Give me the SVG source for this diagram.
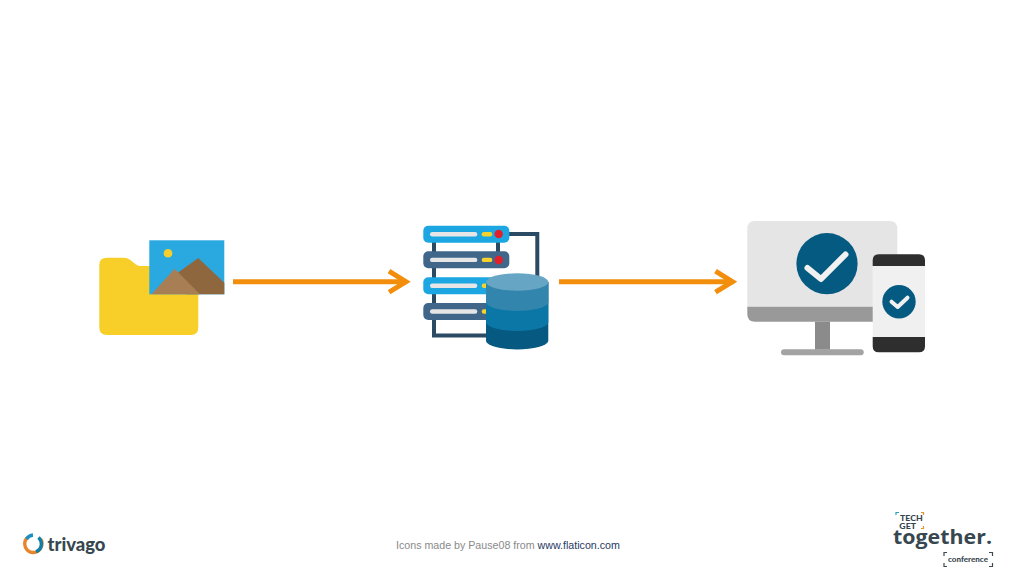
<svg xmlns="http://www.w3.org/2000/svg" width="1024" height="576" viewBox="0 0 1024 576">
<defs>
<marker id="head" markerUnits="userSpaceOnUse" markerWidth="24" markerHeight="30" refX="19" refY="15" orient="auto">
<path d="M1.5 4.5L18.5 15L1.5 25.5" fill="none" stroke="#f28e0c" stroke-width="5"/>
</marker>
</defs>
<style>
.conn{fill:none;stroke:#f28e0c;stroke-width:5;marker-end:url(#head)}
.barA{fill:#1ca7e2}.barB{fill:#40678a}.pill{fill:#e6e6e6}.led{fill:#f6d22c}.red{fill:#e2202c}
.frame{fill:none;stroke:#2b4a63;stroke-width:4}
.check{fill:none;stroke:#f1f1f1;stroke-linecap:round;stroke-linejoin:round}
.brk{fill:none;stroke:#3d4a50;stroke-width:1.2}
text{font-family:"Liberation Sans",Arial,sans-serif}
.logo{font-family:"Lato","Open Sans",sans-serif;font-weight:900;fill:#37474f}
.logo2{font-family:"Open Sans","Noto Sans",sans-serif;font-weight:700;fill:#37474f}
</style>
<rect width="1024" height="576" fill="#fff"/>
<g id="connectors">
<path class="conn" d="M233 281.700H406.500"/>
<path class="conn" d="M559 281.700H733"/>
</g>
<g id="folder-images">
<path d="M107 257.700H124Q127 257.700 130 259.700L136 264.500Q138 266 141 266H191Q198.300 266 198.300 273V327Q198.300 335 191 335H107Q99.300 335 99.300 327V265Q99.300 257.700 107 257.700Z" fill="#f8cf29"/>
<rect x="149.300" y="240.300" width="75" height="54" fill="#2aa9e1"/>
<circle cx="168" cy="253.300" r="4.300" fill="#f6cf2e"/>
<path d="M198.300 258L224.300 282.700V294.300H186L176 274Z" fill="#8f673f"/>
<path d="M174.700 268.700L200 294.300H151.500Z" fill="#a87f55"/>
</g>
<g id="database-server">
<path class="frame" d="M505 234H537.300V285M434 240V335.500H490M498 240V255M434 265V310"/>
<rect class="barA" x="423.300" y="225.700" width="86" height="17" rx="5"/>
<rect class="barB" x="423.300" y="251.300" width="86" height="17" rx="5"/>
<rect class="barA" x="423.300" y="277.300" width="86" height="17" rx="5"/>
<rect class="barB" x="423.300" y="303" width="86" height="17" rx="5"/>
<rect class="pill" x="430" y="232" width="47.300" height="4.400" rx="2.200"/>
<rect class="pill" x="430" y="257.700" width="47.300" height="4.400" rx="2.200"/>
<rect class="pill" x="430" y="283.500" width="47.300" height="4.400" rx="2.200"/>
<rect class="pill" x="430" y="309.300" width="47.300" height="4.400" rx="2.200"/>
<rect class="led" x="481.700" y="232" width="10.600" height="4.400" rx="2.200"/>
<rect class="led" x="481.700" y="257.700" width="10.600" height="4.400" rx="2.200"/>
<rect class="led" x="481.700" y="283.500" width="10" height="4.400" rx="2.200"/>
<rect class="led" x="481.700" y="309.300" width="10" height="4.400" rx="2.200"/>
<circle class="red" cx="498.700" cy="234" r="4.200"/>
<circle class="red" cx="498.700" cy="260" r="4.200"/>
<path d="M486 341V282H548.300V341A31.200 9 0 0 1 486 341Z" fill="#065a82"/>
<path d="M486 322.500V282H548.300V322.500A31.200 9 0 0 1 486 322.500Z" fill="#0b77a6"/>
<path d="M486 302.500V282H548.300V302.500A31.200 9 0 0 1 486 302.500Z" fill="#3285ad"/>
<ellipse cx="517.200" cy="282" rx="31.200" ry="8.700" fill="#66a6c4"/>
</g>
<g id="devices">
<path d="M755 221H889.500Q897.300 221 897.300 229V306.700H747.300V229Q747.300 221 755 221Z" fill="#e5e5e5"/>
<path d="M747.300 306.700H897.300V314Q897.300 321.700 889.500 321.700H755Q747.300 321.700 747.300 314Z" fill="#999"/>
<rect x="815" y="321.700" width="15" height="28" fill="#8b8b8b"/>
<rect x="781" y="349.300" width="82.700" height="6" rx="3" fill="#a3a3a3"/>
<circle cx="827" cy="263.700" r="30.600" fill="#045a80"/>
<path class="check" stroke-width="6" d="M807.500 268L821 279L845.500 254.500"/>
<path d="M872.700 266V260.300Q872.700 254.300 878.700 254.300H919Q925 254.300 925 260.300V266Z" fill="#2e2e2e"/>
<path d="M872.700 337H925V346.300Q925 352.300 919 352.300H878.700Q872.700 352.300 872.700 346.300Z" fill="#2e2e2e"/>
<rect x="872.700" y="266" width="52.300" height="71" fill="#f0f0f0"/>
<circle cx="899" cy="301.700" r="16.700" fill="#045a80"/>
<path class="check" stroke-width="4" d="M891.500 301.700L897.700 307L907.500 297.700"/>
</g>
<g id="trivago-logo">
<path d="M27.500 537.500A8.700 8.700 0 0 0 33 552.500A8.700 8.700 0 0 0 40.500 539" fill="none" stroke="#e8842a" stroke-width="3.400"/>
<path d="M38.500 537.500A8.700 8.700 0 0 1 41.400 543.800A8.700 8.700 0 0 1 36 551.800" fill="none" stroke="#0f7fa8" stroke-width="3.400"/>
<path d="M26.500 539A8.700 8.700 0 0 1 33 535" fill="none" stroke="#1a8fc0" stroke-width="3.400"/>
<text class="logo" x="47.500" y="551" font-size="19" textLength="58" lengthAdjust="spacingAndGlyphs">trivago</text>
</g>
<g id="attribution">
<text x="396" y="549" font-size="10.670" fill="#8a8a8a">Icons made by Pause08 from <tspan fill="#1f3a5f">www.flaticon.com</tspan></text>
</g>
<g id="conference-logo">
<text class="logo" x="900" y="520.800" font-size="8" textLength="22.700" lengthAdjust="spacingAndGlyphs">TECH</text>
<text class="logo" x="899.300" y="529.300" font-size="8" textLength="16.700" lengthAdjust="spacingAndGlyphs">GET</text>
<text class="logo2" x="893" y="544" font-size="20" textLength="99" lengthAdjust="spacingAndGlyphs">together.</text>
<text class="logo" x="948" y="562" font-size="7.500" font-weight="700" textLength="40" lengthAdjust="spacingAndGlyphs">conference</text>
<path class="brk" d="M944 556V552.500H947M989 552.500H992.500V556M944 563V566.500H947M989 566.500H992.500V563"/>
<path d="M896 515V512.500H899" fill="none" stroke="#2a9fc0" stroke-width="1.200"/>
<path d="M921 512.500H923.500V515" fill="none" stroke="#e8902a" stroke-width="1.200"/>
<path d="M921 528.500H923.500V526" fill="none" stroke="#e8902a" stroke-width="1.200"/>
</g>
</svg>
